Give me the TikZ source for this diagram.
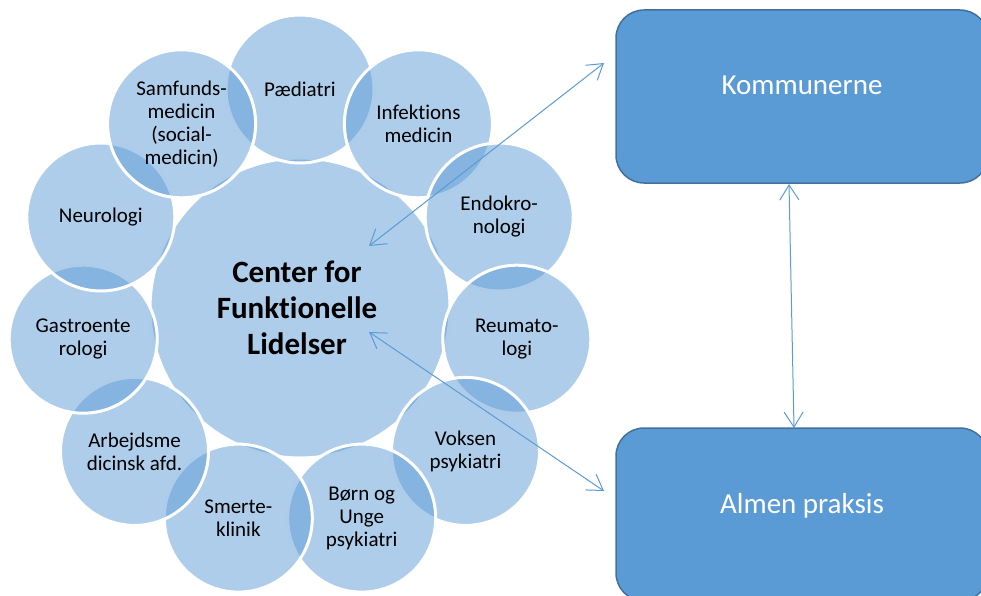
\documentclass[tikz,border=0pt]{standalone}
\usepackage{fontspec}
\setmainfont{Carlito}[Ligatures={NoCommon,NoContextual,NoRare},Contextuals=NoAlternate]
\usetikzlibrary{arrows.meta}
\definecolor{acc}{HTML}{5B9BD5}
\definecolor{accdark}{HTML}{41719C}
\begin{document}
\begin{tikzpicture}[x=1pt,y=-1pt,
 bub/.style={circle, minimum size=148pt, inner sep=0pt, fill=acc, fill opacity=0.5, draw=white, line width=3pt},
 hub/.style={bub, minimum size=300pt},
 lbl/.style={align=center, font=\fontsize{21}{23}\selectfont, text=black, inner sep=0pt},
 hubtxt/.style={align=center, font=\bfseries\fontsize{31}{36}\selectfont, text=black, inner sep=0pt},
 box/.style={rectangle, rounded corners=28pt, fill=acc, draw=accdark, line width=1.5pt, minimum width=372pt, minimum height=173pt, inner sep=0pt},
 boxtxt/.style={font=\fontsize{29}{34}\selectfont, text=white, inner sep=0pt, anchor=base},
 link/.style={draw=acc, line width=1pt, {Straight Barb[length=15pt,width=19pt]}-{Straight Barb[length=15pt,width=19pt]}}
]
\useasboundingbox (0,0) rectangle (981,596);
% hub and ring of circles
\node[hub] (hub) at (300,308) {};
\node[bub] (c0) at (300,89) {};
\node[bub] (c1) at (418.4,123.8) {};
\node[bub] (c2) at (499.2,217.0) {};
\node[bub] (c3) at (516.8,339.2) {};
\node[bub] (c4) at (465.5,451.4) {};
\node[bub] (c5) at (361.7,518.1) {};
\node[bub] (c6) at (238.3,518.1) {};
\node[bub] (c7) at (134.5,451.4) {};
\node[bub] (c8) at (83.2,339.2) {};
\node[bub] (c9) at (100.8,217.0) {};
\node[bub] (c10) at (181.6,123.8) {};
% labels
\node[hubtxt] (thub) at (297,308) {Center for\\Funktionelle\\Lidelser};
\node[lbl] (t0) at (c0.center) {Pædiatri};
\node[lbl] (t1) at (c1.center) {Infektions\\medicin};
\node[lbl] (t2) at (c2.center) {Endokro-\\nologi};
\node[lbl] (t3) at (c3.center) {Reumato-\\logi};
\node[lbl] (t4) at (c4.center) {Voksen\\psykiatri};
\node[lbl] (t5) at (c5.center) {Børn og\\Unge\\psykiatri};
\node[lbl] (t6) at (c6.center) {Smerte-\\klinik};
\node[lbl] (t7) at (c7.center) {Arbejdsme\\dicinsk afd.};
\node[lbl] (t8) at (c8.center) {Gastroente\\rologi};
\node[lbl] (t9) at (c9.center) {Neurologi};
\node[lbl] (t10) at (c10.center) {Samfunds-\\medicin\\(social-\\medicin)};
% boxes
\node[box] (kom) at (802,96.5) {};
\node[box] (alm) at (802,514.5) {};
\node[boxtxt] (tkom) at (802,95) {Kommunerne};
\node[boxtxt] (talm) at (802,513) {Almen praksis};
% connectors
\coordinate (h1) at (369,246);
\coordinate (k1) at (604,63);
\coordinate (h2) at (369,332);
\coordinate (a2) at (604,491);
\coordinate (kb) at (789,184);
\coordinate (at) at (794,428);
\draw[link] (h1) -- (k1);
\draw[link] (h2) -- (a2);
\draw[link] (kb) -- (at);
\end{tikzpicture}
\end{document}
